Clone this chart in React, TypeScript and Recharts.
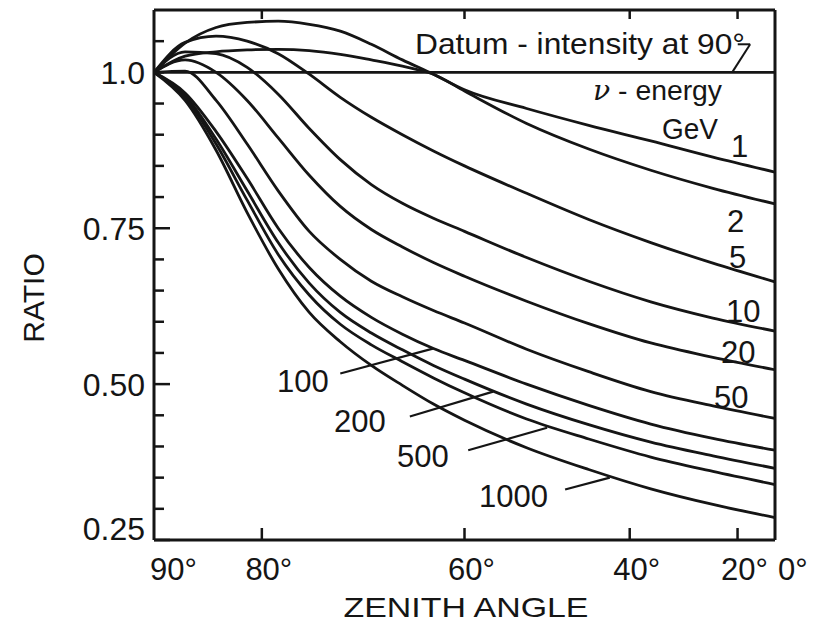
import { Customized, Line, LineChart, ReferenceLine, XAxis, YAxis } from 'recharts'

// x is cos(zenith angle): 0 = horizontal (90°), 1 = vertical (0°)
const cosZenith = [0, 0.05, 0.1, 0.15, 0.2, 0.25, 0.3, 0.35, 0.4, 0.45, 0.5, 0.6, 0.7, 0.8, 0.9, 1.0]

const gev1 = [1.0, 1.047, 1.072, 1.08, 1.082, 1.077, 1.066, 1.045, 1.02, 0.997, 0.972, 0.942, 0.915, 0.89, 0.864, 0.84]
const gev2 = [1.0, 1.026, 1.033, 1.036, 1.037, 1.035, 1.029, 1.02, 1.01, 0.997, 0.97, 0.918, 0.877, 0.843, 0.814, 0.789]
const gev5 = [1.0, 1.048, 1.058, 1.05, 1.03, 0.997, 0.96, 0.928, 0.9, 0.874, 0.85, 0.806, 0.764, 0.727, 0.694, 0.664]
const gev10 = [1.0, 1.033, 1.03, 1.008, 0.965, 0.91, 0.86, 0.82, 0.79, 0.766, 0.745, 0.703, 0.665, 0.632, 0.606, 0.585]
const gev20 = [1.0, 1.02, 1.0, 0.955, 0.895, 0.835, 0.785, 0.748, 0.72, 0.695, 0.673, 0.633, 0.597, 0.566, 0.543, 0.523]
const gev50 = [1.0, 1.002, 0.955, 0.885, 0.81, 0.745, 0.7, 0.665, 0.64, 0.618, 0.598, 0.556, 0.52, 0.488, 0.465, 0.445]
const gev100 = [1.0, 0.967, 0.905, 0.83, 0.75, 0.687, 0.641, 0.607, 0.58, 0.557, 0.538, 0.5, 0.466, 0.436, 0.413, 0.394]
const gev200 = [1.0, 0.963, 0.893, 0.81, 0.727, 0.662, 0.615, 0.582, 0.555, 0.53, 0.508, 0.468, 0.435, 0.407, 0.385, 0.365]
const gev500 = [1.0, 0.96, 0.885, 0.795, 0.708, 0.643, 0.596, 0.563, 0.536, 0.51, 0.486, 0.444, 0.412, 0.383, 0.36, 0.339]
const gev1000 = [1.0, 0.955, 0.875, 0.775, 0.685, 0.615, 0.568, 0.53, 0.498, 0.468, 0.442, 0.398, 0.363, 0.332, 0.307, 0.286]

const series = [gev1, gev2, gev5, gev10, gev20, gev50, gev100, gev200, gev500, gev1000]
const energyLabels = ['1', '2', '5', '10', '20', '50', '100', '200', '500', '1000']

const zenithTicks = [90, 80, 60, 40, 20, 0]
const zenithLabels = ['90°', '80°', '60°', '40°', '20°', '0°']
const xTicks = zenithTicks.map((a) => Math.cos((a * Math.PI) / 180))

const yTicks = [0.25, 0.3, 0.35, 0.4, 0.45, 0.5, 0.55, 0.6, 0.65, 0.7, 0.75, 0.8, 0.85, 0.9, 0.95, 1.0, 1.05]
const yLabelValues = [0.25, 0.5, 0.75, 1.0]
const yLabels = ['0.25', '0.50', '0.75', '1.0']

// leader lines from the low curve labels, in data units (cos, ratio)
const leaders = [
  { label: '100', from: [0.3, 0.517], to: [0.449, 0.557] },
  { label: '200', from: [0.412, 0.448], to: [0.546, 0.488] },
  { label: '500', from: [0.506, 0.394], to: [0.633, 0.43] },
  { label: '1000', from: [0.662, 0.331], to: [0.734, 0.35] },
]

const data = cosZenith.map((c, i) => {
  const row: Record<string, number> = { c }
  series.forEach((s, k) => {
    row['e' + energyLabels[k]] = s[i]
  })
  return row
})

const ink = '#151515'
const font = "'Liberation Sans', Arial, sans-serif"

const labelPos: Record<string, { x: number; y: number }> = {
  '1': { x: 731, y: 157 },
  '2': { x: 727, y: 232 },
  '5': { x: 729, y: 268 },
  '10': { x: 726, y: 322 },
  '20': { x: 721, y: 363 },
  '50': { x: 714, y: 408 },
  '100': { x: 277, y: 392 },
  '200': { x: 334, y: 432 },
  '500': { x: 397, y: 467 },
  '1000': { x: 479, y: 507 },
}

const isMajor = (v: number) => yLabelValues.findIndex((l) => Math.abs(l - v) < 1e-6)

const LeftTick = (props: any) => {
  const { x, y, payload } = props
  const idx = isMajor(payload.value)
  return (
    <g>
      <line x1={x} y1={y} x2={x + (idx >= 0 && idx < 3 ? 16 : 10)} y2={y} stroke={ink} strokeWidth={2.5} />
      {idx >= 0 && (
        <text x={x - 9} y={y + (idx === 0 ? 0 : 12)} textAnchor="end" fontSize={32} fontFamily={font} fill={ink}>
          {yLabels[idx]}
        </text>
      )}
    </g>
  )
}

const RightTick = (props: any) => {
  const { x, y, payload } = props
  const idx = isMajor(payload.value)
  return <line x1={x} y1={y} x2={x - (idx >= 1 && idx < 3 ? 16 : 10)} y2={y} stroke={ink} strokeWidth={2.5} />
}

const BottomTick = (props: any) => {
  const { x, y, index } = props
  const label = zenithLabels[index]
  let anchor: 'start' | 'middle' = 'middle'
  let dx = 7
  if (index === 0) {
    anchor = 'start'
    dx = -4
  } else if (index === zenithLabels.length - 1) {
    anchor = 'start'
    dx = 3
  }
  return (
    <g>
      {index > 0 && index < zenithLabels.length - 1 && (
        <line x1={x} y1={y} x2={x} y2={y - 12} stroke={ink} strokeWidth={2.5} />
      )}
      <text x={x + dx} y={y + 40} textAnchor={anchor} fontSize={31} fontFamily={font} fill={ink}>
        {label}
      </text>
    </g>
  )
}

const TopTick = (props: any) => {
  const { x, y, index } = props
  if (index === 0 || index === zenithLabels.length - 1) return <g />
  return <line x1={x} y1={y} x2={x} y2={y + 9} stroke={ink} strokeWidth={2.5} />
}

const Annotations = () => (
  <g fontFamily={font} fill={ink}>
    <text x={415} y={54} fontSize={29} textLength={330} lengthAdjust="spacingAndGlyphs">
      Datum - intensity at 90°
    </text>
    <text x={593} y={100} fontSize={28} textLength={129} lengthAdjust="spacingAndGlyphs">
      <tspan fontStyle="italic" fontFamily="'DejaVu Serif', serif">ν</tspan>
      <tspan> - energy</tspan>
    </text>
    <text x={662} y={139} fontSize={30} textLength={56} lengthAdjust="spacingAndGlyphs">
      GeV
    </text>
    {energyLabels.map((l) => (
      <text key={l} x={labelPos[l].x} y={labelPos[l].y} fontSize={31}>
        {l}
      </text>
    ))}
    <text x={44} y={298} fontSize={30} textAnchor="middle" transform="rotate(-90 44 298)">
      RATIO
    </text>
    <text x={466} y={617} fontSize={28} textAnchor="middle" textLength={245} lengthAdjust="spacingAndGlyphs">
      ZENITH ANGLE
    </text>
  </g>
)

export default function App() {
  return (
    <div style={{ position: 'absolute', left: 0, top: 0, width: 814, height: 623, background: '#fff' }}>
      <LineChart width={814} height={623} data={data} margin={{ top: 5, right: 29, bottom: 23, left: 94 }}>
        <XAxis
          dataKey="c"
          type="number"
          domain={[0, 1]}
          ticks={xTicks}
          interval={0}
          tickSize={0}
          tickMargin={0}
          tickLine={false}
          tick={<BottomTick />}
          height={60}
          axisLine={{ stroke: ink, strokeWidth: 3 }}
        />
        <XAxis
          xAxisId="top"
          orientation="top"
          dataKey="c"
          type="number"
          domain={[0, 1]}
          ticks={xTicks}
          interval={0}
          tickSize={0}
          tickMargin={0}
          tickLine={false}
          tick={<TopTick />}
          height={5}
          axisLine={{ stroke: ink, strokeWidth: 3 }}
        />
        <YAxis
          type="number"
          domain={[0.25, 1.1]}
          ticks={yTicks}
          interval={0}
          tickSize={0}
          tickMargin={0}
          tickLine={false}
          tick={<LeftTick />}
          width={60}
          axisLine={{ stroke: ink, strokeWidth: 3 }}
        />
        <YAxis
          yAxisId="right"
          orientation="right"
          type="number"
          domain={[0.25, 1.1]}
          ticks={yTicks}
          interval={0}
          tickSize={0}
          tickMargin={0}
          tickLine={false}
          tick={<RightTick />}
          width={10}
          axisLine={{ stroke: ink, strokeWidth: 3 }}
        />
        <ReferenceLine y={1} stroke={ink} strokeWidth={2.6} />
        <ReferenceLine
          segment={[
            { x: 0.94, y: 1.045 },
            { x: 0.96, y: 1.045 },
          ]}
          stroke={ink}
          strokeWidth={2}
        />
        <ReferenceLine
          segment={[
            { x: 0.96, y: 1.045 },
            { x: 0.931, y: 1.0 },
          ]}
          stroke={ink}
          strokeWidth={2}
        />
        {leaders.map((l) => (
          <ReferenceLine
            key={l.label}
            segment={[
              { x: l.from[0], y: l.from[1] },
              { x: l.to[0], y: l.to[1] },
            ]}
            stroke={ink}
            strokeWidth={2.2}
          />
        ))}
        {energyLabels.map((l) => (
          <Line
            key={l}
            dataKey={'e' + l}
            type="monotone"
            stroke={ink}
            strokeWidth={2.8}
            dot={false}
            isAnimationActive={false}
          />
        ))}
        <Customized component={Annotations} />
      </LineChart>
    </div>
  )
}
